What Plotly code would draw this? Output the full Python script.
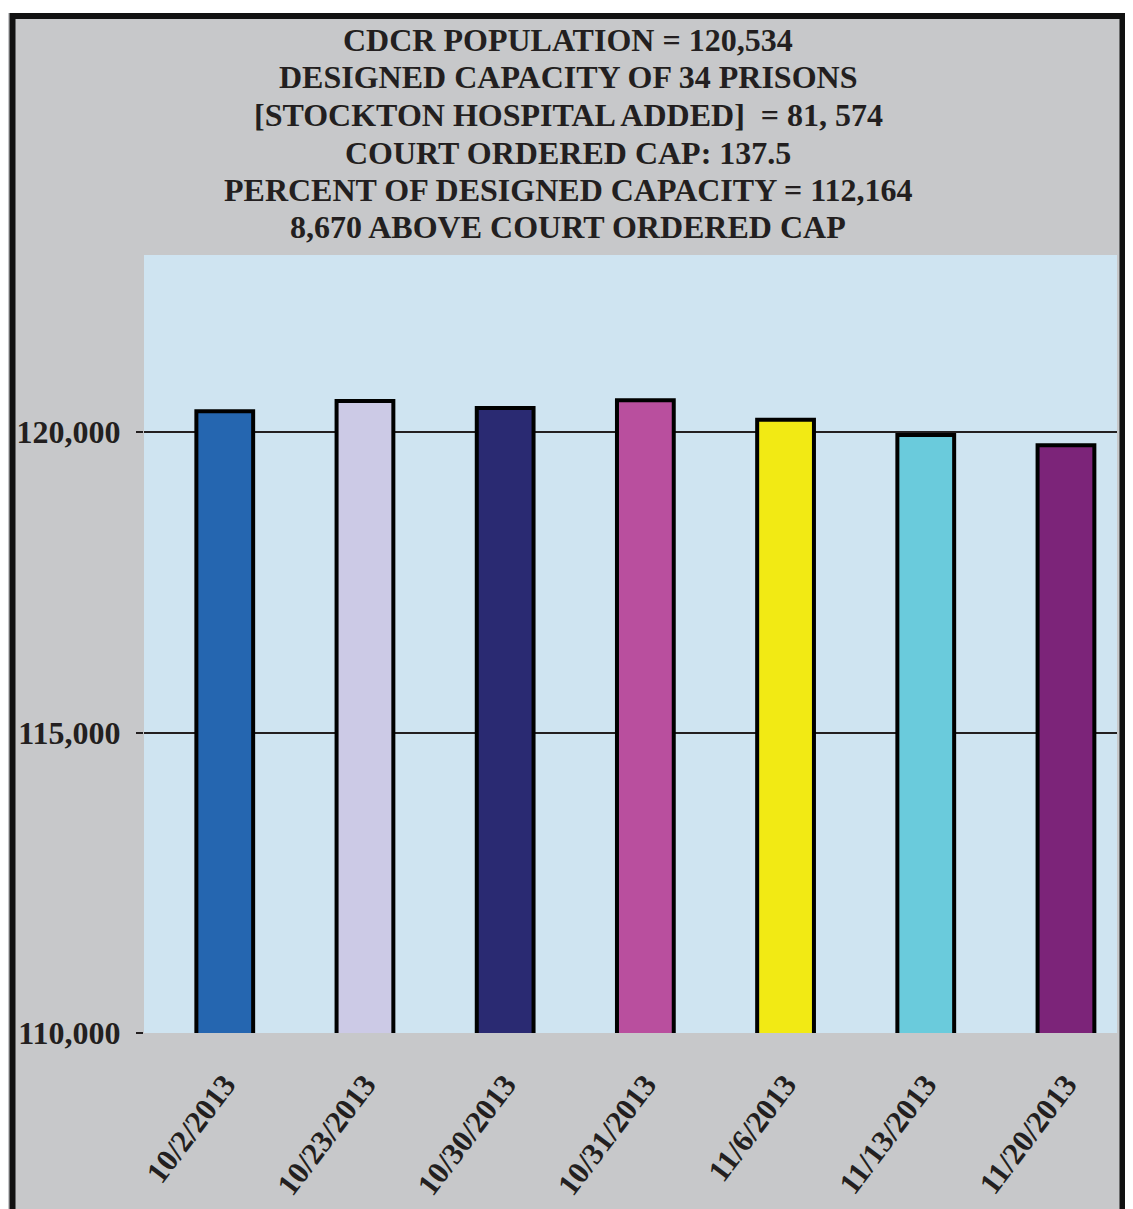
import plotly.graph_objects as go

# ---- data ----
dates = ["10/2/2013", "10/23/2013", "10/30/2013", "10/31/2013",
         "11/6/2013", "11/13/2013", "11/20/2013"]
population = [120345, 120515, 120400, 120530, 120205, 119950, 119780]
bar_colors = ["#2566b0", "#cccae6", "#2a2a72", "#b94f9e",
              "#f2ea14", "#6acbdc", "#7c2479"]
y_ticks = [110000, 115000, 120000]
y_tick_text = ["110,000", "115,000", "120,000"]
title_lines = [
    "CDCR POPULATION = 120,534",
    "DESIGNED CAPACITY OF 34 PRISONS",
    "[STOCKTON HOSPITAL ADDED]  = 81, 574",
    "COURT ORDERED CAP: 137.5",
    "PERCENT OF DESIGNED CAPACITY = 112,164",
    "8,670 ABOVE COURT ORDERED CAP",
]

OFF = 8  # page body margin
W, H = 1133 - OFF, 1209 - OFF
# plot area in page pixels: x 144..1117, y 255..1033
ML = 144 - OFF
MT = 255 - OFF
MR = W - (1117 - OFF)
MB = H - (1033 - OFF)
PW = W - ML - MR
PH = H - MT - MB
FONT = "Liberation Serif, Times New Roman, serif"
TXT = "#231f20"


def px_x(px):
    return (px - OFF - ML) / PW


def px_y(py):
    return (H - MB - (py - OFF)) / PH


fig = go.Figure()
fig.add_trace(go.Bar(
    x=list(range(len(dates))),
    y=population,
    width=0.405,
    marker=dict(color=bar_colors, line=dict(color="#000000", width=4)),
    showlegend=False,
    hoverinfo="x+y",
))

annotations = []
for i, line in enumerate(title_lines):
    annotations.append(dict(
        text="<b>" + line + "</b>",
        xref="paper", yref="paper",
        x=px_x(568), y=px_y(40 + 37.5 * i),
        xanchor="center", yanchor="middle",
        showarrow=False,
        font=dict(family=FONT, size=32, color=TXT),
    ))

shapes = [
    # white strip right of the frame
    dict(type="rect", xref="paper", yref="paper", layer="above",
         x0=px_x(1125.5), x1=px_x(1145), y0=px_y(1300), y1=px_y(-5),
         fillcolor="white", line=dict(width=0)),
    # white strip above the frame
    dict(type="rect", xref="paper", yref="paper", layer="above",
         x0=px_x(-5), x1=px_x(1145), y0=px_y(13), y1=px_y(-5),
         fillcolor="white", line=dict(width=0)),
    # black frame
    dict(type="rect", xref="paper", yref="paper", layer="above",
         x0=px_x(12.5), x1=px_x(1122.5), y0=px_y(1260), y1=px_y(16),
         fillcolor="rgba(0,0,0,0)", line=dict(color="#111111", width=6)),
]

fig.update_layout(
    width=W, height=H,
    margin=dict(l=ML, r=MR, t=MT, b=MB, pad=0, autoexpand=False),
    paper_bgcolor="#c7c8ca",
    plot_bgcolor="#cfe4f1",
    annotations=annotations,
    shapes=shapes,
    xaxis=dict(
        range=[-0.576, 6.364],
        tickmode="array",
        tickvals=list(range(len(dates))),
        ticktext=["<b>" + d + "</b>" for d in dates],
        tickangle=-53,
        tickfont=dict(family=FONT, size=31, color=TXT),
        showgrid=False, zeroline=False, showline=False, ticks="",
        ticklabelstandoff=26,
        automargin=False,
    ),
    yaxis=dict(
        range=[110000, 122945],
        tickmode="array",
        tickvals=y_ticks,
        ticktext=["<b>" + t + "</b>" for t in y_tick_text],
        tickfont=dict(family=FONT, size=32, color=TXT),
        showgrid=True, gridcolor="#231f20", gridwidth=2,
        zeroline=False, showline=False,
        ticks="outside", ticklen=7, tickcolor="#231f20", tickwidth=2,
        ticklabelstandoff=9,
        automargin=False,
    ),
)

fig.write_html("out.html")
